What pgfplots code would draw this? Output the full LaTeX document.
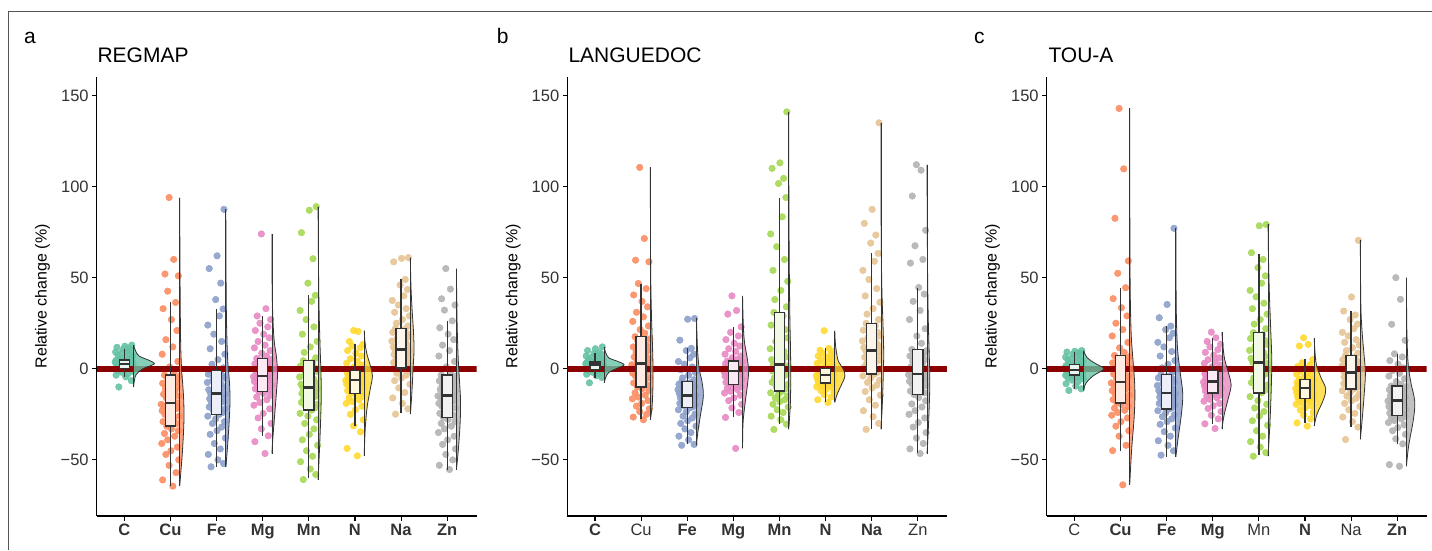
\documentclass[border=0pt]{standalone}
\usepackage{fontspec}
\setmainfont{Liberation Sans}
\usepackage{pgfplots}
\pgfplotsset{compat=1.18}
\usepackage{pgfplotstable}

\definecolor{cC}{HTML}{66C2A5}
\definecolor{cCu}{HTML}{FC8D62}
\definecolor{cFe}{HTML}{8DA0CB}
\definecolor{cMg}{HTML}{E78AC3}
\definecolor{cMn}{HTML}{A6D854}
\definecolor{cN}{HTML}{FFD92F}
\definecolor{cNa}{HTML}{E5C494}
\definecolor{cZn}{HTML}{B3B3B3}
\definecolor{tC}{HTML}{E6F5F0}
\definecolor{tCu}{HTML}{FEEBE3}
\definecolor{tFe}{HTML}{ECEFF7}
\definecolor{tMg}{HTML}{FBEAF4}
\definecolor{tMn}{HTML}{F1F8E3}
\definecolor{tN}{HTML}{FFF8DC}
\definecolor{tNa}{HTML}{FBF5EC}
\definecolor{tZn}{HTML}{F2F2F2}
\definecolor{redline}{HTML}{8B0000}
\definecolor{boxgray}{HTML}{333333}
\definecolor{labgray}{HTML}{333333}
\definecolor{framegray}{HTML}{555555}

% REGMAP
\pgfplotstableread{
ja jb C Cu Fe Mg Mn N Na Zn
-0.12 0.05 -10 -64.4 -53.8 -46.5 -60.8 -47.8 -24.9 -55.3
0.15 -0.17 -6.5 -61 -52 -40 -58 -43.7 -22 -53
0.03 0.12 -4.4 -57 -50 -36.8 -55 -34.6 -19 -50
-0.18 -0.03 -3.5 -53 -47 -33 -51 -31.3 -16 -47
0.08 0.18 -2.8 -50 -44 -30 -48 -28 -13 -44
-0.05 -0.10 -2.0 -47 -41 -27 -45 -25 -10.5 -41.5
0.19 0.01 -1.5 -45 -38 -24.5 -42 -22.5 -8.5 -39
-0.14 0.15 -1.0 -43 -36 -22 -39 -20.5 -6.5 -37
0.01 -0.19 -0.6 -41 -34 -20 -36 -19 -5 -35
0.11 -0.06 -0.3 -39 -32 -18.5 -33 -18 -3.5 -33
-0.09 0.09 0.0 -37 -30 -17 -30 -17 -2.5 -31.5
0.17 -0.13 0.1 -35.5 -29 -15.5 -28 -16 -1.5 -30
-0.02 0.17 0.2 -34 -27.5 -14.5 -26 -15 -0.7 -29
-0.19 0.02 0.3 -33 -26 -13.5 -24.5 -14.2 0 -27.8
0.06 -0.08 0.5 -31.5 -25 -12.6 -22.7 -13.5 0.5 -26.7
0.13 0.14 0.7 -30 -24 -11.8 -21.5 -12.8 1.3 -25.5
-0.07 -0.16 0.9 -29 -23 -11 -20.5 -12 2 -24.5
0.18 0.07 1.1 -28 -22 -10.2 -19.5 -11.3 2.8 -23.5
-0.16 -0.01 1.3 -27 -21 -9.5 -18.5 -10.6 3.5 -22.5
0.04 0.19 1.5 -26 -20 -9 -17.5 -10 4.2 -21.5
-0.11 -0.12 1.7 -25 -19 -8.3 -16.5 -9.5 5 -20.5
0.09 0.04 1.9 -24 -18.5 -7.7 -15.7 -9 5.7 -19.8
0.16 -0.18 2.0 -23 -18 -7 -15 -8.5 6.4 -19
-0.01 0.11 2.2 -22 -17 -6.5 -14.2 -8 7.1 -18.2
-0.15 0.16 2.3 -21.5 -16.5 -6 -13.5 -7.6 7.8 -17.4
0.12 -0.05 2.4 -21 -16 -5.5 -12.8 -7.2 8.5 -16.6
-0.06 -0.14 2.5 -20.5 -15 -5 -12 -6.9 9.1 -15.9
0.02 0.08 2.6 -20 -14.5 -4.6 -11.4 -6.6 9.7 -15.3
0.19 -0.20 2.7 -19.5 -14 -4.3 -10.9 -6.4 10.2 -14.9
-0.13 0.13 2.8 -18.7 -13.5 -4 -10.4 -6.2 10.6 -14.5
0.07 0.00 2.9 -17.5 -12.5 -3.3 -9.5 -5.8 11.3 -13.7
-0.17 -0.09 3.0 -16 -11.5 -2.6 -8.5 -5.4 12 -12.9
0.14 0.18 3.2 -15 -10.5 -2 -7.5 -5 12.8 -12.1
-0.04 -0.15 3.4 -14 -9.5 -1.3 -6.5 -4.6 13.6 -11.3
0.10 0.06 3.5 -13 -8.5 -0.7 -5.5 -4.2 14.4 -10.5
-0.20 0.10 3.7 -12 -7.5 0 -4.5 -3.8 15.2 -9.7
0.05 -0.11 3.9 -11 -7 0.7 -3.5 -3.4 16 -8.9
-0.08 0.15 4.0 -10 -6 1.3 -2.5 -3 16.8 -8.1
0.17 -0.04 4.2 -9 -5 2 -1.5 -2.6 17.6 -7.3
-0.03 -0.17 4.4 -8 -4.5 2.7 -0.5 -2.2 18.4 -6.6
0.13 0.12 4.5 -7 -4 3.3 0.5 -1.9 19.2 -5.9
-0.18 0.03 4.6 -6 -3 4 1.5 -1.6 20 -5.2
0.00 -0.07 4.7 -5 -2.5 4.6 2.5 -1.3 20.8 -4.6
0.08 0.19 4.8 -4.2 -1.8 5.2 3.5 -1.1 21.5 -4
-0.12 -0.13 5.2 -3.5 -1.1 5.7 4.4 -0.9 22.1 -3.5
0.15 0.08 5.6 -1.5 0.5 7 6 0 23.5 -1.5
-0.10 -0.02 6.0 1 2.5 8.5 9 1 25 1
0.03 0.16 6.5 4 5 10 12 2 27 4
0.18 -0.18 7.0 8 8 11.5 15 3 29 7
-0.14 0.05 7.5 12 11 13 19 4 31 10
0.11 -0.10 8.0 16 15 15 23 5.5 33 13
-0.06 0.14 8.6 21 19 17 27 7 35 16
-0.19 0.02 9.2 27 24 19 32 8.5 37.5 19
0.06 -0.16 9.8 33 29 21 37 10 40 22.5
0.14 0.11 10.3 36.4 32.8 23 40.3 11.5 43.5 26.3
-0.02 -0.06 10.6 42.6 38 25 47 12.5 46 32.2
0.09 0.17 11.2 51 47 27 60.4 13.4 49 35
-0.16 -0.12 11.8 52 55 29 74.7 15 58.7 38.4
0.01 0.07 12.4 60 62 33 87 20.5 60.6 43.7
0.16 -0.03 13.0 94 87.5 74 89 21 61 55
}\tabA

% LANGUEDOC
\pgfplotstableread{
ja jb C Cu Fe Mg Mn N Na Zn
-0.12 0.05 -7.7 -28 -42 -43.7 -33.3 -18.5 -33.3 -46.5
0.15 -0.17 -4.8 -26.5 -41.5 -26.7 -30.4 -17 -30 -44
0.03 0.12 -3.8 -25 -39 -24 -28 -15.5 -26.3 -41
-0.18 -0.03 -3 -23.5 -37 -21.5 -26 -14.2 -23 -38
0.08 0.18 -2.4 -22 -35 -19.5 -24 -13 -20 -35
-0.05 -0.10 -1.9 -20.5 -33 -17.5 -22.5 -12 -17 -32
0.19 0.01 -1.5 -19 -31.5 -16 -21 -11.2 -14.5 -29.5
-0.14 0.15 -1.2 -17.5 -30 -14.5 -19.5 -10.5 -12.5 -27
0.01 -0.19 -1 -16.5 -28.5 -13.3 -18 -9.9 -10.5 -25
0.11 -0.06 -0.8 -15.5 -27 -12.3 -17 -9.4 -9 -23
-0.09 0.09 -0.7 -14.5 -26 -11.4 -16 -8.9 -7.5 -21
0.17 -0.13 -0.6 -13.2 -24.8 -10.6 -15 -8.5 -6.2 -19.3
-0.02 0.17 -0.5 -12 -23.6 -9.9 -14 -8.2 -5 -17.6
-0.19 0.02 -0.45 -11 -22.5 -9.2 -13.2 -7.9 -3.9 -15.8
0.06 -0.08 -0.4 -9.9 -21.4 -8.6 -12.3 -7.7 -2.9 -14.1
0.13 0.14 -0.1 -8.8 -20.8 -8 -11 -7.4 -1.9 -13.2
-0.07 -0.16 0.2 -7.8 -20.2 -7.4 -9.8 -7.1 -0.9 -12.2
0.18 0.07 0.5 -6.8 -19.6 -6.8 -8.6 -6.8 0.1 -11.2
-0.16 -0.01 0.8 -5.8 -19 -6.2 -7.4 -6.5 1.1 -10.2
0.04 0.19 1.0 -4.9 -18.4 -5.6 -6.2 -6.2 2 -9.3
-0.11 -0.12 1.2 -4 -17.8 -5 -5 -5.9 2.9 -8.5
0.09 0.04 1.4 -3.2 -17.3 -4.5 -4 -5.6 3.8 -7.7
0.16 -0.18 1.6 -2.4 -16.8 -4 -3 -5.3 4.7 -6.9
-0.01 0.11 1.7 -1.6 -16.3 -3.5 -2 -5 5.5 -6.2
-0.15 0.16 1.8 -0.8 -15.8 -3 -1.2 -4.7 6.3 -5.5
0.12 -0.05 1.9 0 -15.4 -2.6 -0.4 -4.4 7.1 -4.8
-0.06 -0.14 2.0 0.8 -15 -2.2 0.4 -4.1 7.8 -4.2
0.02 0.08 2.05 1.5 -14.8 -1.9 1 -3.9 8.5 -3.7
0.19 -0.20 2.1 2.2 -14.6 -1.6 1.6 -3.7 9.2 -3.3
-0.13 0.13 2.2 2.9 -14.5 -1.3 2.2 -3.5 9.9 -2.9
0.07 0.00 2.3 3.8 -14 -0.9 3.5 -3.2 10.8 -2
-0.17 -0.09 2.4 4.7 -13.5 -0.5 5 -2.9 11.7 -1
0.14 0.18 2.5 5.6 -13 -0.1 6.5 -2.6 12.6 0
-0.04 -0.15 2.6 6.5 -12.5 0.3 8 -2.3 13.5 1
0.10 0.06 2.7 7.4 -12 0.7 9.5 -2 14.4 2
-0.20 0.10 2.8 8.3 -11.5 1.1 11 -1.7 15.3 3
0.05 -0.11 2.9 9.2 -11 1.5 13 -1.4 16.2 4
-0.08 0.15 3.0 10.1 -10.5 1.9 15 -1.2 17.1 5
0.17 -0.04 3.1 11 -10 2.3 17 -1 18 6
-0.03 -0.17 3.2 12 -9.5 2.7 19 -0.8 19 7
0.13 0.12 3.3 13 -9 3.1 21.5 -0.6 20 7.8
-0.18 0.03 3.4 14 -8.5 3.4 24 -0.4 21.2 8.5
0.00 -0.07 3.5 15.2 -8 3.7 26.5 -0.2 22.4 9.2
0.08 0.19 3.6 16.4 -7.5 4.0 29 0 23.6 9.9
-0.12 -0.13 3.7 17.6 -7.1 4.2 30.9 0.2 24.9 10.6
0.15 0.08 4.0 19.5 -6 5 34 0.8 27 14
-0.10 -0.02 4.3 21.5 -5 6 38 1.5 30 18
0.03 0.16 4.7 23.5 -3.5 7 43 2.2 33 22
0.18 -0.18 5.1 26 -2 8 48 3 36.5 27
-0.14 0.05 5.5 28.5 -0.5 9.5 54 3.8 40 32
0.11 -0.10 6.0 31 1 11 60 4.6 44 37
-0.06 0.14 6.5 34 2.5 12.5 67 5.4 49 41
-0.19 0.02 7.0 37 4 14 74 6.2 54 44.6
0.06 -0.16 7.5 40.5 6 16 83.4 7 59 58
0.14 0.11 8.0 44 8 18 94 7.8 63.3 60
-0.02 -0.06 8.4 46.8 10 20 101.7 8.6 69 67.5
0.09 0.17 8.8 58.7 11.2 23 104.5 9.4 73.4 76
-0.16 -0.12 10 59.6 15.7 30 110 10.2 79.8 94.8
0.01 0.07 11 71.5 27.2 32 113 11.2 87.5 109
0.16 -0.03 12 110.5 27.6 40 141 20.9 135 112
}\tabB

% TOU-A
\pgfplotstableread{
ja jb C Cu Fe Mg Mn N Na Zn
-0.12 0.05 -11.9 -63.7 -47.4 -32.8 -48 -31.5 -38.8 -53.5
0.15 -0.17 -11 -44.9 -45 -30.2 -46 -29.7 -32 -52.6
0.03 0.12 -9.5 -42 -42 -27.5 -43 -27.5 -29 -41.2
-0.18 -0.03 -8.2 -37 -39.5 -25.5 -40 -25.5 -26.5 -38.5
0.08 0.18 -7.1 -34 -37 -23.5 -37 -24 -24.5 -36
-0.05 -0.10 -6.2 -31.5 -34.5 -21.8 -34 -22.6 -22.5 -34
0.19 0.01 -5.5 -29 -32.5 -20.3 -31 -21.4 -20.7 -32.3
-0.14 0.15 -5 -27 -30.5 -19 -28.5 -20.4 -19 -30.8
0.01 -0.19 -4.6 -25.5 -29 -17.8 -26 -19.5 -17.5 -29.5
0.11 -0.06 -4.3 -24 -27.5 -16.8 -23.5 -18.7 -16.2 -28.4
-0.09 0.09 -4.1 -22.8 -26.3 -15.9 -21.5 -18 -15 -27.5
0.17 -0.13 -3.9 -21.6 -25.2 -15.1 -19.5 -17.4 -14 -26.8
-0.02 0.17 -3.7 -20.6 -24.1 -14.4 -17.5 -16.9 -13 -26.2
-0.19 0.02 -3.6 -19.6 -23 -13.8 -15.3 -16.6 -12 -25.8
0.06 -0.08 -3.5 -18.7 -22 -13.2 -13.2 -16.3 -11 -25.5
0.13 0.14 -3.2 -17.8 -21.2 -12.7 -11.8 -15.9 -10.3 -24.9
-0.07 -0.16 -2.9 -16.9 -20.4 -12.2 -10.4 -15.5 -9.6 -24.3
0.18 0.07 -2.6 -16 -19.7 -11.7 -9 -15.1 -8.9 -23.7
-0.16 -0.01 -2.4 -15.2 -19 -11.2 -7.6 -14.7 -8.2 -23.1
0.04 0.19 -2.2 -14.4 -18.3 -10.7 -6.3 -14.3 -7.5 -22.5
-0.11 -0.12 -2 -13.6 -17.7 -10.3 -5 -13.9 -6.9 -21.9
0.09 0.04 -1.8 -12.8 -17.1 -9.9 -3.8 -13.5 -6.3 -21.3
0.16 -0.18 -1.6 -12 -16.5 -9.5 -2.6 -13.1 -5.7 -20.7
-0.01 0.11 -1.4 -11.2 -16 -9.1 -1.5 -12.7 -5.1 -20.1
-0.15 0.16 -1.3 -10.4 -15.5 -8.7 -0.5 -12.3 -4.5 -19.5
0.12 -0.05 -1.2 -9.7 -15 -8.3 0.5 -11.9 -4 -19
-0.06 -0.14 -1.1 -9 -14.5 -7.9 1.4 -11.5 -3.5 -18.5
0.02 0.08 -0.9 -8.4 -14.1 -7.6 2.2 -11.2 -3 -18.1
0.19 -0.20 -0.8 -7.8 -13.7 -7.3 2.9 -10.9 -2.6 -17.7
-0.13 0.13 -0.7 -7.3 -13.4 -7 3.5 -10.6 -2.2 -17.4
0.07 0.00 -0.5 -6.2 -12.7 -6.5 4.6 -10.3 -1.6 -16.8
-0.17 -0.09 -0.3 -5.1 -12 -6 5.7 -10 -1 -16.2
0.14 0.18 -0.1 -4 -11.3 -5.6 6.8 -9.7 -0.4 -15.6
-0.04 -0.15 0.1 -2.9 -10.6 -5.2 7.9 -9.4 0.2 -15
0.10 0.06 0.3 -1.8 -9.9 -4.8 9 -9.1 0.8 -14.4
-0.20 0.10 0.5 -0.7 -9.2 -4.4 10.1 -8.8 1.4 -13.8
0.05 -0.11 0.7 0.4 -8.5 -4 11.2 -8.5 2 -13.2
-0.08 0.15 0.9 1.4 -7.8 -3.6 12.3 -8.2 2.6 -12.6
0.17 -0.04 1.1 2.4 -7.1 -3.2 13.4 -7.9 3.2 -12
-0.03 -0.17 1.3 3.3 -6.4 -2.8 14.5 -7.6 3.8 -11.5
0.13 0.12 1.5 4.2 -5.7 -2.4 15.6 -7.3 4.4 -11
-0.18 0.03 1.7 5 -5 -2 16.6 -7 5 -10.5
0.00 -0.07 1.9 5.8 -4.3 -1.6 17.6 -6.6 5.7 -10.1
0.08 0.19 2.1 6.6 -3.7 -1.2 18.7 -6.2 6.5 -9.8
-0.12 -0.13 2.4 7.3 -3.1 -0.9 19.8 -5.9 7.3 -9.5
0.15 0.08 2.8 9 -1.5 0 22 -5.2 8.5 -8.5
-0.10 -0.02 3.2 11.5 0.5 1 24.5 -4.5 10 -7
0.03 0.16 3.7 14.5 2.5 2 27 -3.7 11.5 -5.5
0.18 -0.18 4.2 18 4.5 3 30 -2.9 13 -4
-0.14 0.05 4.7 21.5 7 4 33 -2.1 14.5 -2.5
0.11 -0.10 5.2 25 9.5 5 36 -1.3 16 -1
-0.06 0.14 5.8 29 12 6 39.5 -0.5 18 0.5
-0.19 0.02 6.4 33.5 14.5 7.5 43 0.3 20 2.5
0.06 -0.16 7 38.5 17 9 47 1.2 22 4.5
0.14 0.11 7.6 44.5 19.5 10.5 51 2.2 24.5 6.5
-0.02 -0.06 8.2 52.4 21.5 12 55.5 3.3 27 8.2
0.09 0.17 8.7 59.2 23.4 13.5 60 5.1 29.5 15.6
-0.16 -0.12 9.2 82.6 28 15 63.7 12.5 31.7 24.4
0.01 0.07 9.6 109.7 35.3 17 78.5 13.4 39.4 38.1
0.16 -0.03 10 142.9 77.1 20.1 79.2 17 70.5 50
}\tabC

% jittered points
\newcommand{\pts}[5]{\addplot[only marks, mark=*, mark size=3.3pt, color=#1,
  mark options={draw=none, fill=#1, fill opacity=0.9}]
  table[x expr=\thisrow{#2}+#3, y=#4]{#5};}
\newcommand{\allpts}[1]{%
  \pts{cC}{ja}{1}{C}{#1}
  \pts{cCu}{jb}{2}{Cu}{#1}
  \pts{cFe}{ja}{3}{Fe}{#1}
  \pts{cMg}{jb}{4}{Mg}{#1}
  \pts{cMn}{ja}{5}{Mn}{#1}
  \pts{cN}{jb}{6}{N}{#1}
  \pts{cNa}{ja}{7}{Na}{#1}
  \pts{cZn}{jb}{8}{Zn}{#1}}
% half violin: color, curve, base x, ymin, ymax
\newcommand{\vio}[5]{\addplot[fill=#1, fill opacity=0.8, draw=boxgray,
  line width=0.8pt, smooth, tension=0.6] coordinates {#2};
  \addplot[draw=boxgray, line width=0.8pt] coordinates {(#3,#4) (#3,#5)};}
% box: tint colour, pos, left x, right x, lower whisker, q1, median, q3, upper whisker
\newcommand{\rcbox}[9]{%
  \addplot[draw=boxgray, line width=1.3pt] coordinates {(#2,#5) (#2,#6)};
  \addplot[draw=boxgray, line width=1.3pt] coordinates {(#2,#8) (#2,#9)};
  \addplot[draw=boxgray, fill=#1, line width=1.4pt]
    coordinates {(#3,#6) (#4,#6) (#4,#8) (#3,#8) (#3,#6) (#4,#6)};
  \addplot[draw=boxgray, line width=2.6pt] coordinates {(#3,#7) (#4,#7)};}
\newcommand{\zero}{\addplot[color=redline, line width=6.5pt] coordinates {(0.4,0) (8.64,0)};}

\pgfplotsset{rcaxis/.style={
  scale only axis, width=380pt, height=439.3pt,
  xmin=0.4, xmax=8.64, ymin=-80.8, ymax=160.3,
  clip marker paths=true,
  axis x line=bottom, axis y line=left,
  axis line style={line width=1.1pt, black, -},
  xtick={1,2,3,4,5,6,7,8}, ytick={-50,0,50,100,150},
  yticklabels={−50,0,50,100,150},
  tick align=outside, major tick length=4.5pt,
  tick style={line width=1.1pt, black},
  tick label style={font=\fontsize{16.5}{18}\selectfont, text=labgray},
  /pgf/number format/assume math mode=true,
  ylabel={Relative change (\%)},
  every axis y label/.style={at={(axis description cs:-0.1316,0.5)}, rotate=90,
    anchor=base, font=\fontsize{16}{18}\selectfont, text=black},
  anchor=south west,
}}

\begin{document}
\begin{tikzpicture}
\useasboundingbox (0pt,0pt) rectangle (1432pt,550pt);
\draw[framegray, line width=1.3pt] (8.3pt,0pt) -- (8.3pt,538.3pt) -- (1432pt,538.3pt);

% ---------------- a: REGMAP
\begin{axis}[rcaxis, at={(96.7pt,34pt)},
  xticklabels={\textbf{C},\textbf{Cu},\textbf{Fe},\textbf{Mg},\textbf{Mn},\textbf{N},\textbf{Na},\textbf{Zn}}]
\allpts{\tabA}
\zero
\vio{cC}{(1.2,-10) (1.22,-6) (1.26,-3) (1.4,0) (1.6,2) (1.65,3) (1.55,4.5) (1.32,7) (1.24,10) (1.2,13)}{1.2}{-10}{13}
\vio{cCu}{(2.2,-64.4) (2.23,-55) (2.26,-45) (2.29,-30) (2.29,-20) (2.27,-10) (2.24,0) (2.22,15) (2.21,40) (2.205,60) (2.2,94)}{2.2}{-64.4}{94}
\vio{cFe}{(3.2,-53.8) (3.23,-45) (3.27,-30) (3.29,-18) (3.28,-8) (3.24,5) (3.22,20) (3.21,35) (3.203,60) (3.2,87.5)}{3.2}{-53.8}{87.5}
\vio{cMg}{(4.2,-46.5) (4.22,-38) (4.26,-25) (4.3,-12) (4.32,-3) (4.3,6) (4.25,15) (4.22,28) (4.205,45) (4.2,74)}{4.2}{-46.5}{74}
\vio{cMn}{(5.2,-60.8) (5.23,-45) (5.26,-25) (5.27,-12) (5.26,0) (5.24,15) (5.22,35) (5.21,55) (5.2,89)}{5.2}{-60.8}{89}
\vio{cN}{(6.2,-47.8) (6.21,-40) (6.23,-30) (6.27,-20) (6.34,-10) (6.38,-4) (6.33,2) (6.26,8) (6.22,14) (6.2,21)}{6.2}{-47.8}{21}
\vio{cNa}{(7.2,-24.9) (7.23,-15) (7.26,0) (7.28,10) (7.27,20) (7.24,32) (7.215,45) (7.2,61)}{7.2}{-24.9}{61}
\vio{cZn}{(8.2,-55.3) (8.24,-45) (8.28,-30) (8.29,-18) (8.27,-8) (8.24,5) (8.22,20) (8.208,35) (8.2,55)}{8.2}{-55.3}{55}
\rcbox{tC}{1}{0.89}{1.11}{-4.4}{0.2}{2.6}{4.8}{10.6}
\rcbox{tCu}{2}{1.89}{2.11}{-64.4}{-31.5}{-18.7}{-3.5}{36.4}
\rcbox{tFe}{3}{2.89}{3.11}{-53.8}{-25}{-13.5}{-1.1}{32.8}
\rcbox{tMg}{4}{3.89}{4.11}{-36.8}{-12.6}{-4}{5.7}{29}
\rcbox{tMn}{5}{4.89}{5.11}{-60.2}{-22.7}{-10.4}{4.4}{40.3}
\rcbox{tN}{6}{5.89}{6.11}{-31.3}{-13.5}{-6.2}{-0.9}{13.4}
\rcbox{tNa}{7}{6.89}{7.11}{-24.5}{0.5}{10.6}{22.1}{49}
\rcbox{tZn}{8}{7.89}{8.11}{-55.3}{-26.7}{-14.5}{-3.5}{26.3}
\end{axis}

% ---------------- b: LANGUEDOC
\begin{axis}[rcaxis, at={(567.3pt,34pt)},
  xticklabels={\textbf{C},Cu,\textbf{Fe},\textbf{Mg},\textbf{Mn},\textbf{N},\textbf{Na},Zn}]
\allpts{\tabB}
\zero
\vio{cC}{(1.2,-7.7) (1.23,-5) (1.3,-2) (1.5,0.5) (1.63,2.2) (1.5,4) (1.3,6) (1.23,9) (1.2,12)}{1.2}{-7.7}{12}
\vio{cCu}{(2.2,-28) (2.24,-20) (2.26,-5) (2.25,10) (2.23,25) (2.212,45) (2.204,70) (2.2,110.5)}{2.2}{-28}{110.5}
\vio{cFe}{(3.2,-42) (3.23,-35) (3.29,-25) (3.35,-15) (3.32,-7) (3.26,0) (3.225,10) (3.21,20) (3.2,27.6)}{3.2}{-42}{27.6}
\vio{cMg}{(4.2,-43.7) (4.21,-30) (4.25,-20) (4.31,-8) (4.33,-1) (4.3,6) (4.24,15) (4.215,25) (4.2,40)}{4.2}{-43.7}{40}
\vio{cMn}{(5.2,-33.3) (5.235,-20) (5.245,-5) (5.24,10) (5.225,30) (5.212,60) (5.204,100) (5.2,141)}{5.2}{-33.3}{141}
\vio{cN}{(6.2,-18.5) (6.25,-14) (6.34,-9) (6.42,-4) (6.38,0) (6.28,4) (6.23,10) (6.21,15) (6.2,20.9)}{6.2}{-18.5}{20.9}
\vio{cNa}{(7.2,-33.3) (7.23,-20) (7.255,0) (7.26,10) (7.245,25) (7.22,45) (7.205,80) (7.2,135)}{7.2}{-33.3}{135}
\vio{cZn}{(8.2,-46.5) (8.225,-35) (8.255,-15) (8.26,-3) (8.245,10) (8.225,30) (8.21,60) (8.2,112)}{8.2}{-46.5}{112}
\rcbox{tC}{1}{0.89}{1.11}{-4.8}{-0.4}{2.2}{3.7}{8.8}
\rcbox{tCu}{2}{1.89}{2.11}{-27.8}{-9.9}{2.9}{17.6}{46.8}
\rcbox{tFe}{3}{2.89}{3.11}{-41.5}{-21.4}{-14.5}{-7.1}{11.2}
\rcbox{tMg}{4}{3.89}{4.11}{-26.7}{-8.6}{-1.3}{4.2}{23}
\rcbox{tMn}{5}{4.89}{5.11}{-30.4}{-12.3}{2.2}{30.9}{94}
\rcbox{tN}{6}{5.89}{6.11}{-18}{-7.7}{-3.5}{0.2}{11.2}
\rcbox{tNa}{7}{6.89}{7.11}{-33.3}{-2.9}{9.9}{24.9}{63.3}
\rcbox{tZn}{8}{7.89}{8.11}{-46.1}{-14.1}{-2.9}{10.6}{44.6}
\end{axis}

% ---------------- c: TOU-A
\begin{axis}[rcaxis, at={(1046.7pt,34pt)},
  xticklabels={C,\textbf{Cu},\textbf{Fe},\textbf{Mg},Mn,\textbf{N},Na,\textbf{Zn}}]
\allpts{\tabC}
\zero
\vio{cC}{(1.2,-11.9) (1.25,-8) (1.4,-4) (1.6,-1) (1.63,0.5) (1.45,3) (1.28,6) (1.2,10)}{1.2}{-11.9}{10}
\vio{cCu}{(2.2,-63.7) (2.24,-45) (2.3,-25) (2.31,-10) (2.27,5) (2.23,20) (2.21,45) (2.203,80) (2.2,142.9)}{2.2}{-63.7}{142.9}
\vio{cFe}{(3.2,-48.4) (3.25,-38) (3.32,-25) (3.35,-14) (3.3,-3) (3.24,10) (3.215,25) (3.205,45) (3.2,77.1)}{3.2}{-48.4}{77.1}
\vio{cMg}{(4.2,-32.8) (4.25,-25) (4.35,-15) (4.4,-9) (4.35,-3) (4.26,5) (4.22,13) (4.2,20.1)}{4.2}{-32.8}{20.1}
\vio{cMn}{(5.2,-48) (5.24,-30) (5.27,-10) (5.28,5) (5.26,20) (5.23,40) (5.21,60) (5.2,79.2)}{5.2}{-48}{79.2}
\vio{cN}{(6.2,-31.5) (6.26,-25) (6.4,-17) (6.45,-11) (6.35,-5) (6.25,2) (6.215,10) (6.2,17)}{6.2}{-31.5}{17}
\vio{cNa}{(7.2,-38.8) (7.24,-28) (7.29,-12) (7.31,-2) (7.28,8) (7.24,20) (7.212,35) (7.2,70.5)}{7.2}{-38.8}{70.5}
\vio{cZn}{(8.2,-53.5) (8.25,-42) (8.35,-28) (8.38,-18) (8.3,-8) (8.24,2) (8.215,15) (8.205,30) (8.2,50)}{8.2}{-53.5}{50}
\rcbox{tC}{1}{0.89}{1.11}{-11}{-3.5}{-0.7}{2.4}{9.2}
\rcbox{tCu}{2}{1.89}{2.11}{-44.9}{-18.7}{-7.3}{7.3}{44.5}
\rcbox{tFe}{3}{2.89}{3.11}{-48.4}{-22}{-13.4}{-3.1}{23.4}
\rcbox{tMg}{4}{3.89}{4.11}{-30.2}{-13.2}{-7}{-0.9}{17}
\rcbox{tMn}{5}{4.89}{5.11}{-47.4}{-13.2}{3.5}{19.8}{63.2}
\rcbox{tN}{6}{5.89}{6.11}{-29.7}{-16.3}{-10.6}{-5.9}{5.1}
\rcbox{tNa}{7}{6.89}{7.11}{-32}{-11}{-2.2}{7.3}{31.7}
\rcbox{tZn}{8}{7.89}{8.11}{-41.2}{-25.5}{-17.4}{-9.5}{8.2}
\end{axis}

\node[anchor=base west, inner sep=0pt, font=\fontsize{21}{24}\selectfont] at (24pt,506.7pt) {a};
\node[anchor=base west, inner sep=0pt, font=\fontsize{21}{24}\selectfont] at (97.3pt,487.7pt) {REGMAP};
\node[anchor=base west, inner sep=0pt, font=\fontsize{21}{24}\selectfont] at (496.7pt,506.7pt) {b};
\node[anchor=base west, inner sep=0pt, font=\fontsize{21}{24}\selectfont] at (568.3pt,487.7pt) {LANGUEDOC};
\node[anchor=base west, inner sep=0pt, font=\fontsize{21}{24}\selectfont] at (974pt,506.7pt) {c};
\node[anchor=base west, inner sep=0pt, font=\fontsize{21}{24}\selectfont] at (1048.3pt,487.7pt) {TOU-A};
\end{tikzpicture}
\end{document}
